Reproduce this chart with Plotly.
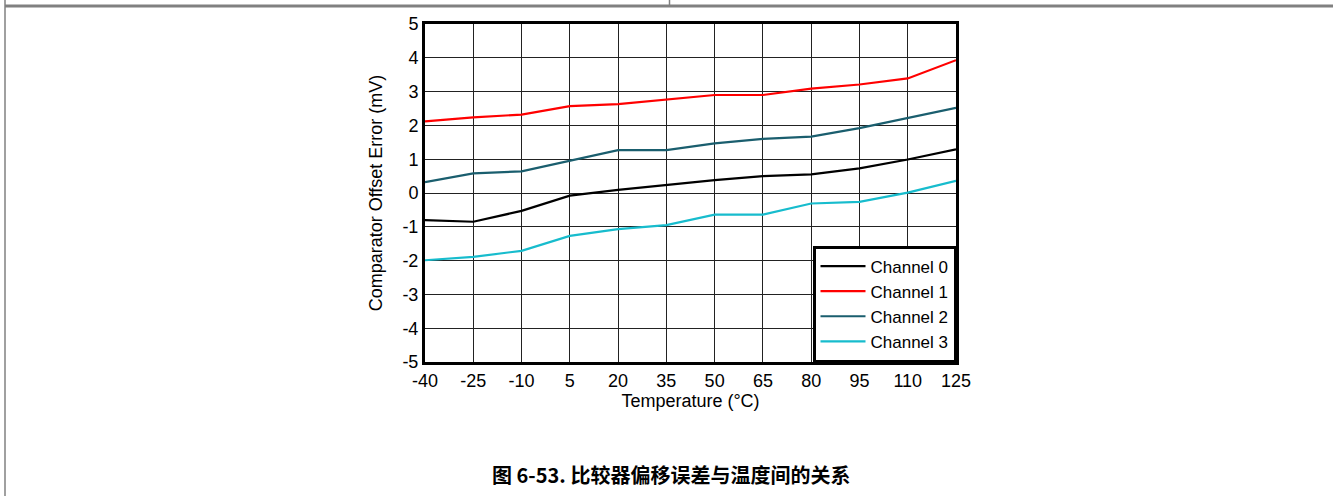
import plotly.graph_objects as go

temperature = [-40, -25, -10, 5, 20, 35, 50, 65, 80, 95, 110, 125]
channel0 = [-0.80, -0.85, -0.53, -0.08, 0.09, 0.24, 0.38, 0.50, 0.55, 0.73, 0.99, 1.29]
channel1 = [2.12, 2.24, 2.32, 2.57, 2.63, 2.77, 2.90, 2.90, 3.09, 3.21, 3.39, 3.93]
channel2 = [0.32, 0.58, 0.64, 0.96, 1.27, 1.27, 1.47, 1.60, 1.67, 1.92, 2.23, 2.52]
channel3 = [-1.99, -1.89, -1.71, -1.27, -1.07, -0.95, -0.64, -0.64, -0.31, -0.26, 0.01, 0.36]
series_names = ["Channel 0", "Channel 1", "Channel 2", "Channel 3"]
series_colors = ["#000000", "#ff0000", "#1a5e6e", "#17bccd"]
x_ticks = temperature
y_ticks = [-5, -4, -3, -2, -1, 0, 1, 2, 3, 4, 5]
caption = "图 6-53. 比较器偏移误差与温度间的关系"

W, H = 1333, 496
L, R, T, B = 425, 956, 24, 362
pw, ph = R - L, B - T

def px(xp):
    return (xp - L) / pw

def py(yp):
    return (B - yp) / ph

fig = go.Figure()
for name, vals, col in zip(series_names, [channel0, channel1, channel2, channel3], series_colors):
    fig.add_trace(go.Scatter(x=temperature, y=vals, mode="lines", name=name,
                             line=dict(color=col, width=2.2)))

font = "Liberation Sans, Arial, sans-serif"
fs = 18
fig.update_layout(
    width=W, height=H,
    margin=dict(l=L, r=W - R, t=T, b=H - B),
    paper_bgcolor="white", plot_bgcolor="white",
    font=dict(family=font, size=fs, color="black"),
    showlegend=True,
    legend=dict(x=1, y=0, xanchor="right", yanchor="bottom",
                bgcolor="white", bordercolor="black", borderwidth=2.5,
                font=dict(size=17, family=font), tracegroupgap=0,
                itemwidth=45),
    xaxis=dict(range=[-40, 125], tickvals=x_ticks, ticktext=[str(v) for v in x_ticks],
               showgrid=True, gridcolor="#222222", gridwidth=1,
               zeroline=False, showline=True, linecolor="black", linewidth=3, mirror=True,
               ticks="", title=dict(text="Temperature (°C)", standoff=2,
                                     font=dict(size=fs, family=font)),
               tickfont=dict(size=fs, family=font)),
    yaxis=dict(range=[-5, 5], tickvals=y_ticks, ticktext=[str(v) for v in y_ticks],
               showgrid=True, gridcolor="#222222", gridwidth=1,
               zeroline=False, showline=True, linecolor="black", linewidth=3, mirror=True,
               ticks="", title=dict(text="Comparator Offset Error (mV)", standoff=16,
                                     font=dict(size=fs, family=font)),
               tickfont=dict(size=fs, family=font)),
)

# Page frame lines
fig.add_shape(type="line", xref="paper", yref="paper", x0=px(5), x1=px(1333), y0=py(6), y1=py(6),
              line=dict(color="#808080", width=3))
fig.add_shape(type="line", xref="paper", yref="paper", x0=px(5), x1=px(5), y0=py(0), y1=py(496),
              line=dict(color="#808080", width=1.5))
fig.add_shape(type="line", xref="paper", yref="paper", x0=px(669.5), x1=px(669.5), y0=py(0), y1=py(6),
              line=dict(color="#808080", width=1.5))

fig.add_annotation(text="<b>" + caption + "</b>", xref="paper", yref="paper",
                   x=px(671), y=py(474), showarrow=False, xanchor="center", yanchor="middle",
                   font=dict(size=20, family="Noto Sans CJK SC, Liberation Sans, sans-serif", color="black"))

fig.write_html("out.html", config={"displayModeBar": False},
               post_script="document.body.style.margin='0';document.body.style.overflow='hidden';")
